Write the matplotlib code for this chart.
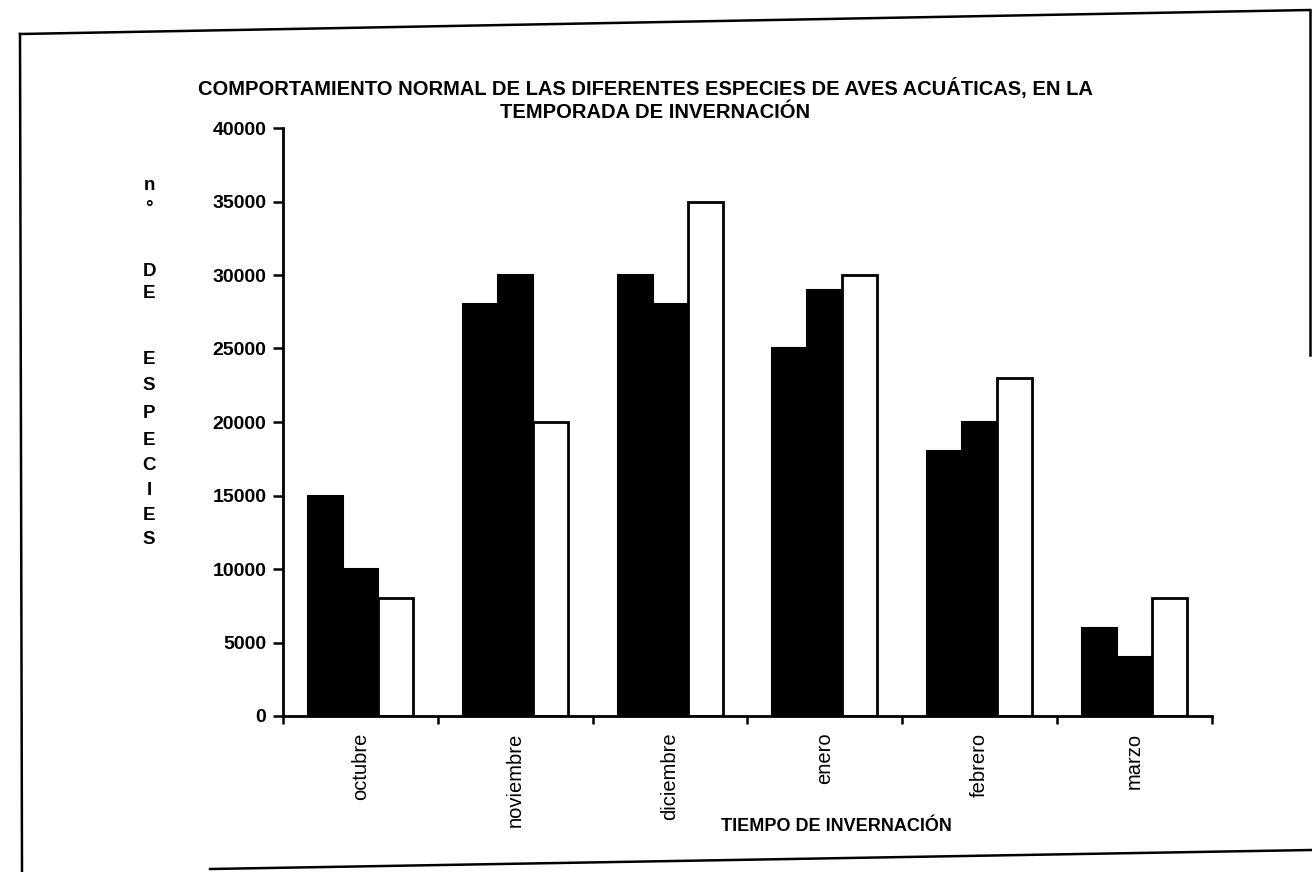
import numpy as np
import matplotlib
matplotlib.use("Agg")
import matplotlib.pyplot as plt
from matplotlib.lines import Line2D

plt.rcParams['font.family'] = ['Liberation Sans', 'DejaVu Sans']

# data
meses = ["octubre", "noviembre", "diciembre", "enero", "febrero", "marzo"]
serie1 = [15000, 28000, 30000, 25000, 18000, 6000]
serie2 = [10000, 30000, 28000, 29000, 20000, 4000]
serie3 = [8000, 20000, 35000, 30000, 23000, 8000]
yticks = [0, 5000, 10000, 15000, 20000, 25000, 30000, 35000, 40000]

fig = plt.figure(figsize=(13.12, 8.72), dpi=100)
ax = fig.add_axes([283 / 1312, 1 - 716 / 872, (1212 - 283) / 1312, (716 - 128) / 872])

x = np.arange(len(meses))
w = 0.226
ax.bar(x - w, serie1, w, color="black", edgecolor="black", linewidth=1.5)
ax.bar(x, serie2, w, color="black", edgecolor="black", linewidth=1.5)
ax.bar(x + w, serie3, w, color="white", edgecolor="black", linewidth=2.0)

ax.set_xlim(-0.5, len(meses) - 0.5)
ax.set_ylim(0, 40000)
ax.set_yticks(yticks)
ax.set_yticklabels([str(v) for v in yticks], fontsize=14, fontweight="bold")
ax.set_xticks(x)
ax.set_xticklabels(meses, rotation=90, fontsize=14.5, va="top")
ax.set_xticks(np.arange(-0.5, len(meses)), minor=True)
ax.tick_params(axis="x", which="major", length=0, pad=12)
ax.tick_params(axis="x", which="minor", length=6, width=1.8, direction="out")
ax.tick_params(axis="y", length=7, width=1.8, direction="out", pad=5)

for s in ["top", "right"]:
    ax.spines[s].set_visible(False)
for s in ["left", "bottom"]:
    ax.spines[s].set_linewidth(2.0)

# title
fig.text(645 / 1312, 1 - 88 / 872,
         "COMPORTAMIENTO NORMAL DE LAS DIFERENTES ESPECIES DE AVES ACUÁTICAS, EN LA",
         ha="center", va="center", fontsize=14.5, fontweight="bold")
fig.text(655 / 1312, 1 - 112 / 872, "TEMPORADA DE INVERNACIÓN",
         ha="center", va="center", fontsize=14.5, fontweight="bold")

# x label
fig.text(836 / 1312, 1 - 826 / 872, "TIEMPO DE INVERNACIÓN",
         ha="center", va="center", fontsize=13, fontweight="bold")

# stacked y label
letras = ["n", "°", "D", "E", "E", "S", "P", "E", "C", "I", "E", "S"]
ys = [186, 209, 271, 293, 360, 386, 413, 440, 465, 490, 515, 540]
for l, yy in zip(letras, ys):
    fig.text(149 / 1312, 1 - yy / 872, l, ha="center", va="center",
             fontsize=13.5, fontweight="bold")

# page frame from the scan
W, H = 1312, 872
def fline(x0, y0, x1, y1):
    fig.add_artist(Line2D([x0 / W, x1 / W], [1 - y0 / H, 1 - y1 / H],
                          color="black", linewidth=1.8, transform=fig.transFigure))

fline(20, 34, 1310, 10)
fline(20, 34, 22, 872)
fline(210, 869, 1312, 850)
fline(1310, 10, 1310, 355)

fig.savefig("out.png", dpi=100)
